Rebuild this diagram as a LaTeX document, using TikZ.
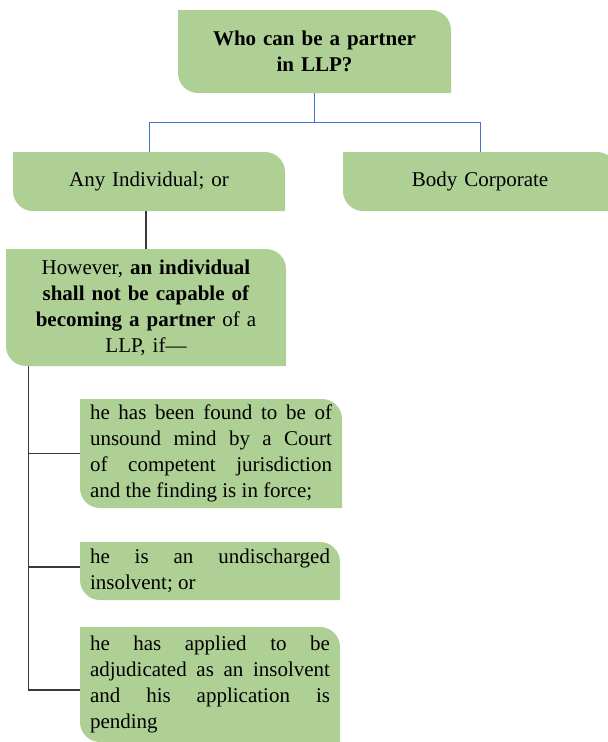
\documentclass[tikz,border=0pt]{standalone}
\usepackage{fontspec}
\setmainfont{Liberation Serif}
\begin{document}
\definecolor{leaf}{HTML}{AED095}
\definecolor{linkblue}{HTML}{4472C4}
\definecolor{linkdark}{HTML}{3A3A3A}
\def\lr{20pt}
\tikzset{
  leafbox/.style={rectangle, inner ysep=0pt, inner xsep=10pt, fill=white,
    text=black, font=\fontsize{21}{26}\selectfont,
    path picture={\fill[leaf]
      (path picture bounding box.north west)
      -- ([xshift=-\lr]path picture bounding box.north east)
      arc[start angle=90, end angle=0, radius=\lr]
      -- (path picture bounding box.south east)
      -- ([xshift=\lr]path picture bounding box.south west)
      arc[start angle=270, end angle=180, radius=\lr]
      -- cycle;}},
  centerbox/.style={leafbox, align=center},
  justbox/.style={leafbox, align=justify},
  bluelink/.style={draw=linkblue, line width=1pt},
  darklink/.style={draw=linkdark, line width=1.3pt}
}
\begin{tikzpicture}[x=1pt, y=1pt]
  \useasboundingbox (0,0) rectangle (608,-742);

  % question and the two kinds of partner
  \node[centerbox, text width=253pt, minimum width=273pt, minimum height=83pt]
    (q) at (314.5,-51.5) {\bfseries Who can be a partner\\in LLP?};
  \node[centerbox, text width=252pt, minimum width=272pt, minimum height=59pt]
    (ind) at (149,-181.5) {Any Individual; or};
  \node[centerbox, text width=254pt, minimum width=274pt, minimum height=59pt]
    (body) at (480,-181.5) {Body Corporate};

  % the exception
  \node[centerbox, text width=260pt, minimum width=280pt, minimum height=117pt]
    (how) at (146,-307.5)
    {However, \textbf{an individual}\\\textbf{shall not be capable of}\\
     \textbf{becoming a partner} of a\\LLP, if—};

  % the three conditions
  \tolerance=10000
  \node[justbox, text width=242pt, minimum width=262pt, minimum height=109pt]
    (c1) at (211,-453.5)
    {he has been found to be of\linebreak unsound mind by a Court\linebreak
     of competent jurisdiction\linebreak and the finding is in force;};
  \node[justbox, text width=240pt, minimum width=260pt, minimum height=58pt]
    (c2) at (210,-571)
    {he is an undischarged\linebreak insolvent; or};
  \node[justbox, text width=240pt, minimum width=260pt, minimum height=115pt]
    (c3) at (210,-684.5)
    {he has applied to be\linebreak adjudicated as an insolvent\linebreak
     and his application is\linebreak pending};

  % connectors
  \draw[bluelink] (q.south) -- ++(0,-29) coordinate (qj) -| (ind.north);
  \draw[bluelink] (qj) -| (body.north);
  \draw[darklink] (how.north |- ind.south) -- (how.north);
  \coordinate (trunk) at ([xshift=23pt]how.south west);
  \draw[darklink] (trunk) |- (c1.west);
  \draw[darklink] (trunk) |- ([yshift=4pt]c2.west);
  \draw[darklink] (trunk) |- ([yshift=-5.5pt]c3.west);
\end{tikzpicture}
\end{document}
